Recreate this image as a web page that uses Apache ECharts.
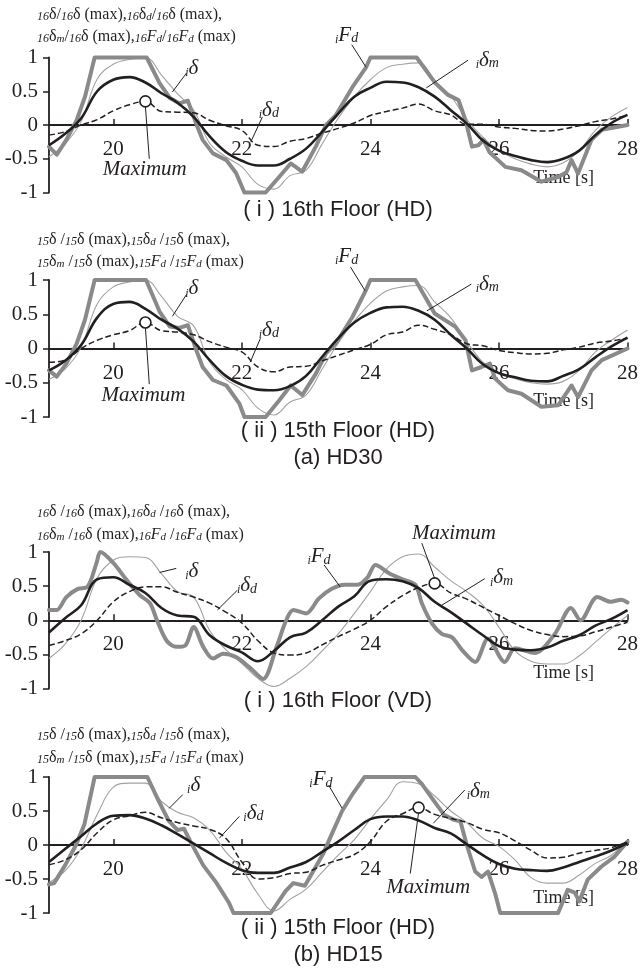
<!DOCTYPE html>
<html><head><meta charset="utf-8">
<script src="https://cdn.jsdelivr.net/npm/echarts@6/dist/echarts.min.js"></script>
<style>html,body{margin:0;padding:0;background:#fff}#c{width:641px;height:968px}</style>
</head><body><div id="c"></div>
<script>
// ---------- DATA ----------
const TIME = [19,19.25,19.5,19.75,20,20.25,20.5,20.75,21,21.25,21.5,21.75,22,22.25,22.5,22.75,23,23.25,23.5,23.75,24,24.25,24.5,24.75,25,25.25,25.5,25.75,26,26.25,26.5,26.75,27,27.25,27.5,27.75,28];
const X_TICKS = [20,22,24,26,28];

// Panel 1: (a)(i) 16th floor HD30
const P1_DELTA   = [-0.47,-0.28,0.05,0.68,0.9,0.97,1.0,0.74,0.46,0.22,-0.27,-0.47,-0.62,-0.88,-0.95,-0.75,-0.67,-0.28,0.1,0.42,0.67,0.85,0.9,0.92,0.66,0.43,0.08,-0.18,-0.38,-0.5,-0.58,-0.62,-0.56,-0.38,-0.08,0.12,0.26];
const P1_DELTA_M = [-0.3,-0.13,0.1,0.5,0.67,0.71,0.63,0.47,0.33,0.12,-0.17,-0.4,-0.53,-0.6,-0.6,-0.5,-0.35,-0.1,0.17,0.42,0.55,0.64,0.63,0.56,0.42,0.22,0.02,-0.23,-0.38,-0.46,-0.52,-0.55,-0.5,-0.38,-0.15,0.03,0.15];
const P1_DELTA_D = [-0.15,-0.1,0.0,0.08,0.21,0.3,0.35,0.2,0.19,0.18,0.07,-0.01,-0.08,-0.3,-0.32,-0.24,-0.2,-0.12,-0.05,0.03,0.14,0.2,0.25,0.31,0.21,0.15,0.01,0.01,-0.03,-0.05,-0.08,-0.09,-0.06,-0.01,0.05,0.09,0.14];
const P1_FD = [[19,-0.32],[19.12,-0.44],[19.27,-0.22],[19.43,0.07],[19.56,0.42],[19.71,1],[20.52,1],[20.72,0.62],[20.88,0.4],[21.03,0.32],[21.16,0.36],[21.29,0.02],[21.39,-0.22],[21.55,-0.42],[21.76,-0.52],[21.91,-0.71],[22.04,-1],[22.37,-1],[22.58,-0.77],[22.76,-0.57],[22.94,-0.69],[23.15,-0.32],[23.31,0.0],[23.46,0.14],[23.72,0.56],[23.93,0.85],[24.0,1],[24.72,1],[25.01,0.62],[25.2,0.45],[25.37,0.37],[25.48,0.07],[25.58,-0.32],[25.68,-0.3],[25.76,-0.22],[25.85,-0.4],[26.1,-0.62],[26.35,-0.67],[26.66,-0.84],[26.92,-0.77],[27.05,-0.7],[27.13,-0.52],[27.23,-0.72],[27.44,-0.22],[27.6,-0.07],[28,0.0]];

// Panel 2: (a)(ii) 15th floor HD30
const P2_DELTA   = [-0.45,-0.3,0.02,0.65,0.9,0.97,1.0,0.76,0.47,0.33,-0.2,-0.45,-0.6,-0.87,-0.97,-0.78,-0.68,-0.3,0.08,0.4,0.66,0.84,0.9,0.92,0.68,0.45,0.1,-0.2,-0.36,-0.44,-0.5,-0.52,-0.48,-0.32,-0.05,0.12,0.27];
const P2_DELTA_M = [-0.32,-0.18,0.05,0.45,0.65,0.68,0.58,0.42,0.29,0.1,-0.17,-0.4,-0.53,-0.6,-0.61,-0.55,-0.4,-0.12,0.15,0.38,0.52,0.6,0.61,0.55,0.42,0.2,0.0,-0.23,-0.36,-0.42,-0.47,-0.48,-0.4,-0.3,-0.13,0.03,0.16];
const P2_DELTA_D = [-0.2,-0.17,0.0,0.12,0.2,0.26,0.38,0.26,0.24,0.2,0.1,0.02,-0.05,-0.27,-0.34,-0.27,-0.26,-0.18,-0.1,-0.02,0.06,0.2,0.24,0.34,0.28,0.2,0.07,0.04,-0.03,-0.06,-0.08,-0.07,-0.02,0.02,0.08,0.11,0.15];
const P2_FD = [[19,-0.32],[19.12,-0.41],[19.27,-0.22],[19.43,0.07],[19.56,0.42],[19.71,1],[20.51,1],[20.72,0.54],[20.88,0.32],[21.03,0.3],[21.16,0.34],[21.29,-0.02],[21.39,-0.27],[21.55,-0.46],[21.76,-0.54],[21.96,-0.8],[22.04,-1],[22.37,-1],[22.58,-0.76],[22.76,-0.54],[22.94,-0.68],[23.15,-0.37],[23.31,-0.07],[23.46,0.07],[23.72,0.46],[23.93,0.85],[24.0,1],[24.7,1],[25.0,0.51],[25.32,0.32],[25.48,0.12],[25.58,-0.32],[25.73,-0.27],[25.86,-0.22],[25.94,-0.44],[26.14,-0.61],[26.35,-0.66],[26.66,-0.85],[26.92,-0.83],[27.13,-0.54],[27.23,-0.71],[27.44,-0.32],[27.6,-0.17],[28,0.0]];

// Panel 3: (b)(i) 16th floor VD
const P3_DELTA   = [-0.56,-0.35,0.0,0.62,0.88,0.93,0.92,0.68,0.42,0.34,-0.15,-0.43,-0.63,-0.85,-0.97,-0.85,-0.68,-0.45,-0.2,0.1,0.42,0.75,0.93,0.97,0.78,0.58,0.42,0.22,-0.1,-0.45,-0.6,-0.64,-0.64,-0.52,-0.32,-0.12,0.07];
const P3_DELTA_M = [-0.18,0.03,0.22,0.6,0.63,0.52,0.4,0.18,0.07,0.05,-0.22,-0.37,-0.47,-0.6,-0.45,-0.25,-0.18,0.0,0.2,0.35,0.58,0.6,0.57,0.47,0.27,0.12,-0.05,-0.22,-0.38,-0.43,-0.44,-0.4,-0.3,-0.22,-0.08,0.02,0.15];
const P3_DELTA_D = [-0.37,-0.3,-0.2,0.0,0.27,0.42,0.49,0.49,0.41,0.34,0.25,0.12,-0.04,-0.3,-0.48,-0.51,-0.48,-0.36,-0.24,-0.13,0.0,0.2,0.36,0.48,0.54,0.4,0.31,0.19,0.07,-0.05,-0.15,-0.21,-0.24,-0.23,-0.17,-0.1,-0.03];
const P3_FD = [[19,0.15],[19.12,0.15],[19.27,0.34],[19.45,0.46],[19.6,0.49],[19.74,0.84],[19.8,1.0],[20.0,0.84],[20.2,0.6],[20.41,0.37],[20.57,0.25],[20.68,0.0],[20.83,-0.3],[20.98,-0.39],[21.12,-0.37],[21.25,-0.1],[21.4,-0.39],[21.55,-0.56],[21.71,-0.49],[21.91,-0.54],[22.12,-0.69],[22.33,-0.86],[22.54,-0.39],[22.69,0.0],[22.8,0.15],[23.0,0.1],[23.2,0.32],[23.4,0.46],[23.6,0.52],[23.8,0.52],[23.95,0.62],[24.08,0.81],[24.29,0.69],[24.5,0.6],[24.7,0.52],[24.8,0.25],[24.96,-0.05],[25.11,-0.2],[25.27,-0.25],[25.43,-0.44],[25.63,-0.61],[25.83,-0.27],[26.09,-0.61],[26.25,-0.41],[26.56,-0.48],[26.87,-0.2],[27.12,0.18],[27.27,0.0],[27.53,0.34],[27.74,0.27],[27.9,0.3],[28,0.26]];

// Panel 4: (b)(ii) 15th floor HD15
const P4_DELTA   = [-0.55,-0.38,-0.05,0.45,0.85,0.91,0.91,0.64,0.48,0.4,0.22,-0.1,-0.35,-0.72,-0.97,-0.8,-0.65,-0.4,-0.15,0.08,0.38,0.66,0.93,0.9,0.72,0.5,0.33,0.1,-0.02,-0.22,-0.48,-0.56,-0.56,-0.44,-0.27,-0.15,0.07];
const P4_DELTA_M = [-0.25,-0.06,0.13,0.32,0.43,0.44,0.39,0.29,0.16,0.02,-0.12,-0.26,-0.37,-0.41,-0.41,-0.33,-0.25,-0.1,0.05,0.22,0.38,0.42,0.42,0.36,0.25,0.17,0.01,-0.15,-0.28,-0.35,-0.37,-0.38,-0.33,-0.25,-0.17,-0.08,0.03];
const P4_DELTA_D = [-0.29,-0.22,-0.07,0.18,0.37,0.43,0.48,0.4,0.33,0.28,0.23,0.1,-0.25,-0.5,-0.48,-0.42,-0.4,-0.3,-0.22,-0.14,0.05,0.35,0.46,0.55,0.45,0.39,0.33,0.23,0.18,0.06,-0.08,-0.19,-0.18,-0.12,-0.08,-0.04,0.05];
const P4_FD = [[19,-0.58],[19.08,-0.56],[19.25,-0.3],[19.42,0],[19.55,0.3],[19.71,1],[20.53,1],[20.7,0.66],[20.86,0.36],[21.0,0.22],[21.1,0.24],[21.2,0.05],[21.4,-0.3],[21.6,-0.55],[21.8,-0.85],[21.87,-1],[22.45,-1],[22.68,-0.68],[22.8,-0.56],[22.98,-0.6],[23.15,-0.32],[23.27,-0.12],[23.38,0.12],[23.56,0.5],[23.73,0.76],[23.91,1],[24.7,1],[24.8,0.9],[24.98,0.66],[25.15,0.44],[25.3,0.37],[25.4,0.35],[25.5,0.0],[25.63,-0.39],[25.73,-0.47],[25.83,-0.39],[25.94,-0.71],[26.02,-1],[26.92,-1],[27.07,-0.66],[27.18,-0.7],[27.25,-0.83],[27.38,-0.51],[27.59,-0.32],[27.8,-0.17],[28,0.05]];

// ---------- LAYOUT / STYLE ----------
const SERIF = '"Liberation Serif","Times New Roman",serif';
const SANS = '"Liberation Sans",Arial,sans-serif';
const INK = '#231f20';
const TICK_FONT = 21;

function nameLines(f, sp) {
  return [
    `{p|${f}}{n|δ${sp}/}{p|${f}}{n|δ (max),}{p|${f}}{n|δ}{s|d}{n|${sp}/}{p|${f}}{n|δ (max),}`,
    `{p|${f}}{n|δ}{s|m}{n|${sp}/}{p|${f}}{n|δ (max),}{p|${f}}{f|F}{s|d}{n|${sp}/}{p|${f}}{f|F}{s|d}{n| (max)}`
  ];
}

const PANELS = [
  { top: 57.5, height: 135, delta: P1_DELTA, deltaM: P1_DELTA_M, deltaD: P1_DELTA_D, fd: P1_FD, fdSmooth: false,
    names: nameLines('16', ''), nameY: [15, 37], caption: '( i ) 16th Floor (HD)', capY: 210, sub: null,
    ann: [
      { k: 'd',  at: [21.22, 0.84], line: [[21.14, 0.77], [20.92, 0.49]] },
      { k: 'dd', at: [22.42, 0.22], line: [[22.32, 0.12], [22.14, -0.25]] },
      { k: 'fd', at: [23.63, 1.33], line: [[23.71, 1.19], [23.93, 0.86]] },
      { k: 'dm', at: [25.82, 0.96], line: [[25.52, 0.96], [24.87, 0.55]] }
    ], maxText: [20.49, -0.66], maxEnd: [20.56, -0.5] },
  { top: 280, height: 137, delta: P2_DELTA, deltaM: P2_DELTA_M, deltaD: P2_DELTA_D, fd: P2_FD, fdSmooth: false,
    names: nameLines('15', ' '), nameY: [240, 262], caption: '( ii ) 15th Floor (HD)', capY: 431, sub: '(a) HD30', subY: 458,
    ann: [
      { k: 'd',  at: [21.22, 0.87], line: [[21.14, 0.79], [20.92, 0.47]] },
      { k: 'dd', at: [22.42, 0.27], line: [[22.29, 0.15], [22.13, -0.2]] },
      { k: 'fd', at: [23.63, 1.34], line: [[23.69, 1.19], [23.92, 0.84]] },
      { k: 'dm', at: [25.82, 0.94], line: [[25.57, 0.94], [24.88, 0.55]] }
    ], maxText: [20.47, -0.68], maxEnd: [20.56, -0.52] },
  { top: 552, height: 136.5, delta: P3_DELTA, deltaM: P3_DELTA_M, deltaD: P3_DELTA_D, fd: P3_FD, fdSmooth: 0.3,
    names: nameLines('16', ' '), nameY: [512, 535], caption: '( i ) 16th Floor (VD)', capY: 701, sub: null,
    ann: [
      { k: 'd',  at: [21.22, 0.72], line: [[20.72, 0.7], [20.98, 0.76]] },
      { k: 'dd', at: [22.08, 0.51], line: [[21.93, 0.44], [21.62, 0.15]] },
      { k: 'fd', at: [23.2, 0.93], line: [[23.28, 0.81], [23.53, 0.49]] },
      { k: 'dm', at: [26.04, 0.62], line: [[25.78, 0.61], [25.11, 0.22]] }
    ], maxText: [25.3, 1.27], maxEnd: [24.8, 1.13] },
  { top: 777, height: 136, delta: P4_DELTA, deltaM: P4_DELTA_M, deltaD: P4_DELTA_D, fd: P4_FD, fdSmooth: false,
    names: nameLines('15', ' '), nameY: [735, 758], caption: '( ii ) 15th Floor (HD)', capY: 928, sub: '(b) HD15', subY: 955,
    ann: [
      { k: 'd',  at: [21.25, 0.87], line: [[21.08, 0.74], [20.87, 0.54]] },
      { k: 'dd', at: [22.18, 0.47], line: [[21.96, 0.42], [21.65, 0.1]] },
      { k: 'fd', at: [23.23, 0.96], line: [[23.35, 0.88], [23.56, 0.54]] },
      { k: 'dm', at: [25.68, 0.79], line: [[25.47, 0.81], [24.98, 0.32]] }
    ], maxText: [24.9, -0.62], maxEnd: [24.62, -0.42] }
];

const ANN_TEXT = {
  d: '{i|i}{g|δ}',
  dd: '{i|i}{g|δ}{s|d}',
  fd: '{i|i}{g|F}{s|d}',
  dm: '{i|i}{g|δ}{s|m}'
};

function pairs(vals) { return TIME.map((t, i) => [t, vals[i]]); }

const grids = [], xAxes = [], yAxes = [], series = [];
PANELS.forEach((p, k) => {
  grids.push({ left: 49, right: 11, top: p.top, height: p.height });
  xAxes.push({
    gridIndex: k, type: 'value', min: 19, max: 28,
    axisLine: { onZero: true, lineStyle: { color: INK, width: 1.8 } },
    axisTick: { show: true, inside: true, length: 6, customValues: X_TICKS, lineStyle: { color: INK, width: 1.5 } },
    // labels sit just under the zero line (not under the grid bottom)
    axisLabel: { customValues: X_TICKS, margin: 14 - p.height / 2, fontFamily: SERIF, fontSize: TICK_FONT, color: INK },
    splitLine: { show: false }
  });
  yAxes.push({
    gridIndex: k, type: 'value', min: -1, max: 1, interval: 0.5,
    axisLine: { show: true, lineStyle: { color: INK, width: 1.8 } },
    axisTick: { show: true, length: 6, lineStyle: { color: INK, width: 1.5 } },
    axisLabel: { margin: 11, fontFamily: SERIF, fontSize: TICK_FONT, color: INK },
    splitLine: { show: false }
  });
  const base = { type: 'line', xAxisIndex: k, yAxisIndex: k, symbol: 'none', showSymbol: false, clip: false, silent: true };
  series.push(Object.assign({}, base, { name: 'iδ', data: pairs(p.delta), smooth: 0.4, z: 2,
    lineStyle: { color: '#a2a2a2', width: 1.1 } }));
  series.push(Object.assign({}, base, { name: 'iFd', data: p.fd, smooth: p.fdSmooth, z: 3,
    lineStyle: { color: '#8a8a8a', width: 4, join: 'round', cap: 'round' } }));
  series.push(Object.assign({}, base, { name: 'iδm', data: pairs(p.deltaM), smooth: 0.4, z: 4,
    lineStyle: { color: INK, width: 2.6 } }));
  series.push(Object.assign({}, base, { name: 'iδd', data: pairs(p.deltaD), smooth: 0.4, z: 5,
    lineStyle: { color: INK, width: 1.5, type: [6, 3] },
    markPoint: { symbol: 'circle', symbolSize: 11, silent: true, z: 30, label: { show: false },
      itemStyle: { color: '#fff', borderColor: INK, borderWidth: 1.6 },
      data: [{ type: 'max', valueDim: 'y' }] } }));
});

const chart = echarts.init(document.getElementById('c'), null, { renderer: 'canvas' });
chart.setOption({
  animation: false,
  backgroundColor: '#fff',
  grid: grids, xAxis: xAxes, yAxis: yAxes, series: series
});

// ---------- ANNOTATIONS ----------
const nameRich = {
  n: { fontFamily: SERIF, fontSize: 16, fill: INK, verticalAlign: 'bottom' },
  p: { fontFamily: SERIF, fontSize: 12, fontStyle: 'italic', fill: INK, verticalAlign: 'bottom' },
  s: { fontFamily: SERIF, fontSize: 11, fontStyle: 'italic', fill: INK, verticalAlign: 'bottom' },
  f: { fontFamily: SERIF, fontSize: 16, fontStyle: 'italic', fill: INK, verticalAlign: 'bottom' }
};
const annRich = {
  i: { fontFamily: SERIF, fontSize: 12, fontStyle: 'italic', fill: INK, verticalAlign: 'bottom' },
  g: { fontFamily: SERIF, fontSize: 21, fontStyle: 'italic', fill: INK, verticalAlign: 'bottom' },
  s: { fontFamily: SERIF, fontSize: 14, fontStyle: 'italic', fill: INK, verticalAlign: 'bottom' }
};

const gfx = [];
PANELS.forEach((p, k) => {
  const px = v => chart.convertToPixel({ gridIndex: k }, v);
  p.names.forEach((s, j) => {
    gfx.push({ type: 'text', z: 10, style: { text: s, x: 37, y: p.nameY[j], rich: nameRich, verticalAlign: 'middle', align: 'left' } });
  });
  gfx.push({ type: 'text', z: 10, style: { text: p.caption, x: 338, y: p.capY, font: '22px ' + SANS, fill: INK, align: 'center', verticalAlign: 'middle' } });
  if (p.sub) gfx.push({ type: 'text', z: 10, style: { text: p.sub, x: 338, y: p.subY, font: '22px ' + SANS, fill: INK, align: 'center', verticalAlign: 'middle' } });
  const zero = px([28, 0]);
  gfx.push({ type: 'text', z: 1, style: { text: 'Time [s]', x: 594, y: zero[1] + 53, font: '18px ' + SERIF, fill: INK, align: 'right', verticalAlign: 'middle' } });
  p.ann.forEach(a => {
    const c = px(a.at), l0 = px(a.line[0]), l1 = px(a.line[1]);
    gfx.push({ type: 'text', z: 20, style: { text: ANN_TEXT[a.k], x: c[0], y: c[1], rich: annRich, align: 'center', verticalAlign: 'middle' } });
    gfx.push({ type: 'line', z: 20, shape: { x1: l0[0], y1: l0[1], x2: l1[0], y2: l1[1] }, style: { stroke: INK, lineWidth: 1 } });
  });
  // Maximum leader: from max of iδd to the label
  let mi = 0;
  p.deltaD.forEach((v, i) => { if (v > p.deltaD[mi]) mi = i; });
  const m = px([TIME[mi], p.deltaD[mi]]);
  const e = px(p.maxEnd), mt = px(p.maxText);
  const dir = e[1] > m[1] ? 5 : -5;
  gfx.push({ type: 'line', z: 6, shape: { x1: m[0], y1: m[1] + dir, x2: e[0], y2: e[1] }, style: { stroke: INK, lineWidth: 1 } });
  gfx.push({ type: 'text', z: 20, style: { text: 'Maximum', x: mt[0], y: mt[1], font: 'italic 21px ' + SERIF, fill: INK, align: 'center', verticalAlign: 'middle' } });
});
chart.setOption({ graphic: gfx });
</script>
</body></html>
